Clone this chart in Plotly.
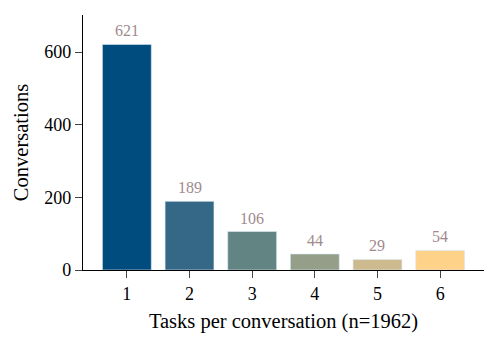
import plotly.graph_objects as go

categories = [1, 2, 3, 4, 5, 6]
values = [621, 189, 106, 44, 29, 54]
colors = ["#004c7f", "#356886", "#628483", "#949e88", "#cdbb8f", "#ffd28a"]
y_ticks = [0, 200, 400, 600]

fig = go.Figure(go.Bar(
    x=categories, y=values, width=0.78,
    marker=dict(color=colors, line=dict(color="rgba(220,235,245,0.6)", width=1)),
    hoverinfo="x+y",
))
for c, v in zip(categories, values):
    fig.add_annotation(
        x=c, y=v, text=str(v), showarrow=False, yanchor="bottom", yshift=3,
        font=dict(family="Liberation Serif", size=16, color="#a08a8c"),
    )
font = dict(family="Liberation Serif", size=18, color="black")
fig.update_layout(
    width=498, height=343,
    margin=dict(l=83, r=14, t=15, b=73),
    plot_bgcolor="white", paper_bgcolor="white",
    font=font, showlegend=False,
)
fig.update_xaxes(
    range=[0.3, 6.7], tickvals=categories, ticks="outside", ticklen=7, tickwidth=1.3,
    showline=True, linecolor="black", linewidth=1.3, showgrid=False, zeroline=False,
    title=dict(text="Tasks per conversation (n=1962)", font=dict(size=20.5), standoff=10),
    tickfont=dict(size=18), automargin=False,
)
fig.update_yaxes(
    range=[0, 702], tickvals=y_ticks, ticks="outside", ticklen=7, tickwidth=1.3,
    showline=True, linecolor="black", linewidth=1.3, showgrid=False, zeroline=False,
    title=dict(text="Conversations", font=dict(size=20.5), standoff=10),
    tickfont=dict(size=18), automargin=False,
)
fig.write_html("out.html", post_script="document.body.style.margin='0';",
               config={"displayModeBar": False})
